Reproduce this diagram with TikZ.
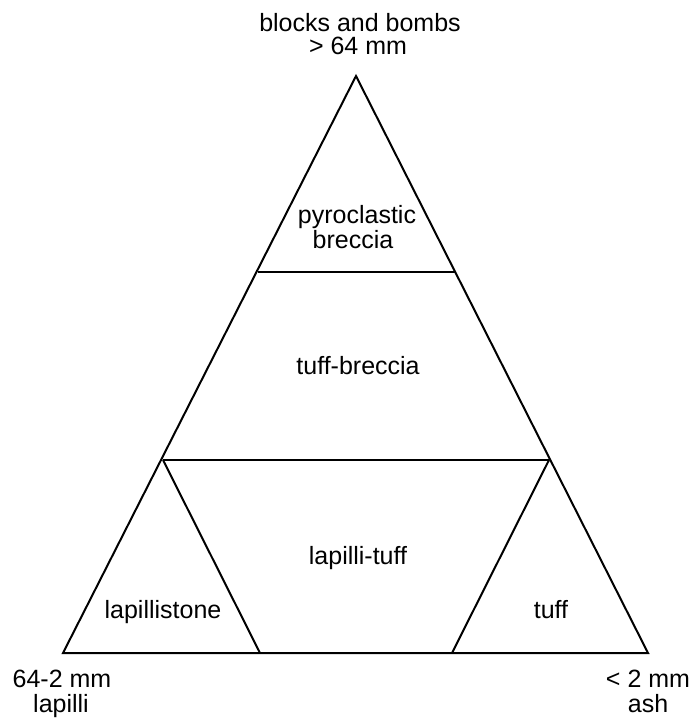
\documentclass[tikz,border=0pt]{standalone}
\usepackage{fontspec}
\setmainfont{Liberation Sans}
\begin{document}
\begin{tikzpicture}[x=1pt,y=-1pt,
  edge/.style={line width=2pt,line join=miter},
  lbl/.style={font=\fontsize{25}{28}\selectfont,anchor=base,inner sep=0pt}]
\useasboundingbox (0,0) rectangle (693,719);
\coordinate (apex) at (356,76);
\coordinate (bl) at (63,653);
\coordinate (br) at (648,653);
\coordinate (ul) at (258,272);
\coordinate (ur) at (455,272);
\coordinate (ml) at (163,460);
\coordinate (mr) at (549,460);
\coordinate (il) at (260,653);
\coordinate (ir) at (452,653);
\draw[edge] (apex) -- (br) -- (bl) -- cycle;
\draw[edge] (ul) -- (ur);
\draw[edge] (ml) -- (mr);
\draw[edge] (ml) -- (il);
\draw[edge] (mr) -- (ir);
\node[lbl] (t1) at (360,32) {blocks and bombs};
\node[lbl] (t2) at (358,55) {> 64 mm};
\node[lbl] (p1) at (357,223) {pyroclastic};
\node[lbl] (p2) at (353,248) {breccia};
\node[lbl] (tb) at (358,374) {tuff-breccia};
\node[lbl] (lt) at (358,564) {lapilli-tuff};
\node[lbl] (ls) at (163,618) {lapillistone};
\node[lbl] (tf) at (551,618) {tuff};
\node[lbl] (l1) at (62,687) {64-2 mm};
\node[lbl] (l2) at (61,712) {lapilli};
\node[lbl] (a1) at (648,687) {< 2 mm};
\node[lbl] (a2) at (648,712) {ash};
\end{tikzpicture}
\end{document}
